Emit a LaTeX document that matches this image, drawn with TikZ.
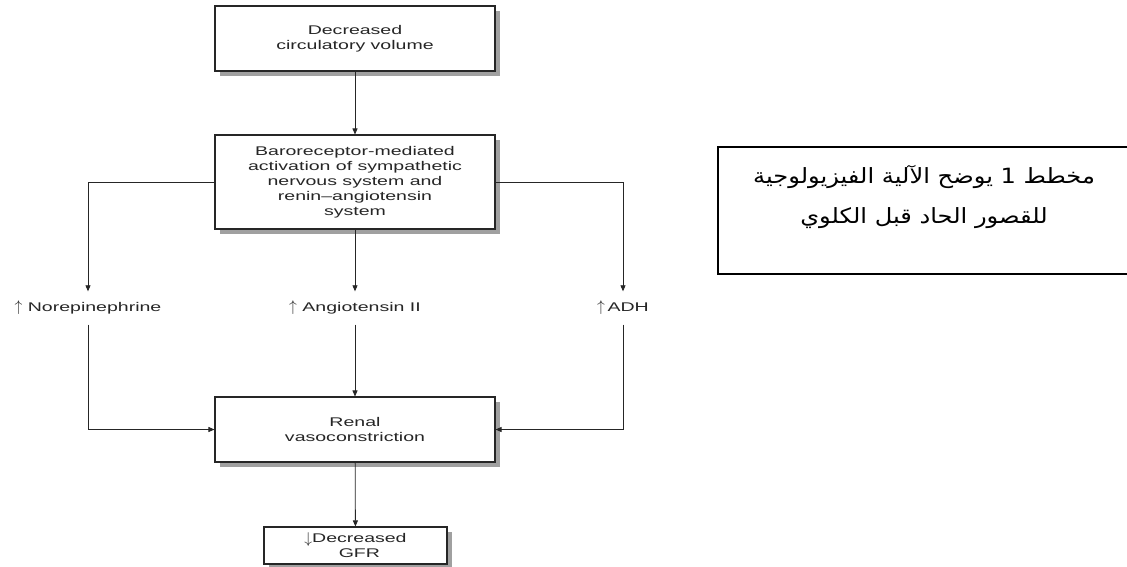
\documentclass[tikz,border=0pt]{standalone}
\usepackage{fontspec}
\setmainfont{Liberation Sans}
\newfontfamily\diagfont[FakeStretch=1.55]{Liberation Sans}
\newfontfamily\arabicfont[Script=Arabic,FakeStretch=1.15]{DejaVu Sans}
\TeXXeTstate=1
\usetikzlibrary{arrows.meta,shadows}
\definecolor{ink}{HTML}{262626}
\definecolor{shade}{HTML}{A0A0A0}
\newcommand{\upar}{\raisebox{-0.5pt}{\scalebox{1.3}{$\uparrow$}}}
\newcommand{\downar}{\raisebox{-1pt}{\scalebox{1.3}{$\downarrow$}}}
\tikzset{
  flowbox/.style={draw=ink, line width=1.1pt, fill=white, align=center, text=ink,
    inner sep=0pt, minimum width=280pt,
    font=\diagfont\fontsize{12.6}{15}\selectfont,
    drop shadow={shadow xshift=5pt, shadow yshift=-5pt, fill=shade, opacity=1}},
  factor/.style={text=ink, inner sep=0pt, minimum height=33pt,
    font=\diagfont\fontsize{12.6}{15}\selectfont},
  link/.style={draw=ink, line width=0.8pt, -{Triangle[length=6pt,width=5pt]}},
  captionframe/.style={draw=black, line width=1.4pt},
  captiontext/.style={align=center, text=black, inner sep=0pt,
    font=\arabicfont\fontsize{21}{40}\selectfont}
}
\begin{document}
\begin{tikzpicture}[x=1pt,y=-1pt]
\useasboundingbox[fill=white] (0,0) rectangle (1127,566);

\node[flowbox, minimum height=65pt] (vol) at (355,38.5)
  {Decreased\\circulatory volume};
\node[flowbox, minimum height=94pt] (baro) at (355,182)
  {Baroreceptor-mediated\\activation of sympathetic\\nervous system and\\renin–angiotensin\\system};
\node[factor] (ne) at (88,308) {\upar\ Norepinephrine};
\node[factor] (ang) at (355,308) {\upar\ Angiotensin II};
\node[factor] (adh) at (623,308) {\upar\hspace{2.5pt}ADH};
\node[flowbox, minimum height=65pt] (renal) at (355,429.5)
  {Renal\\vasoconstriction};
\node[flowbox, minimum width=183pt, minimum height=37pt] (gfr) at (355.5,545.5)
  {\downar Decreased\\\hphantom{\downar}GFR};

\draw[link] (vol) -- (baro);
\draw[link] (baro.west) -| (ne.north);
\draw[link] (baro) -- (ang);
\draw[link] (baro.east) -| (adh.north);
\draw[link] (ne.south) |- (renal.west);
\draw[link] (ang) -- (renal);
\draw[link] (adh.south) |- (renal.east);
\draw[link] (renal) -- (gfr);

\coordinate (ctr) at (1127,147);
\coordinate (ctl) at (718,147);
\coordinate (cbl) at (718,274);
\coordinate (cbr) at (1127,274);
\draw[captionframe] (ctr) -- (ctl) -- (cbl) -- (cbr);
\node[captiontext] (cap) at (924,197)
  {\beginR مخطط 1 يوضح الآلية الفيزيولوجية\endR\\\beginR للقصور الحاد قبل الكلوي\endR};
\end{tikzpicture}
\end{document}
